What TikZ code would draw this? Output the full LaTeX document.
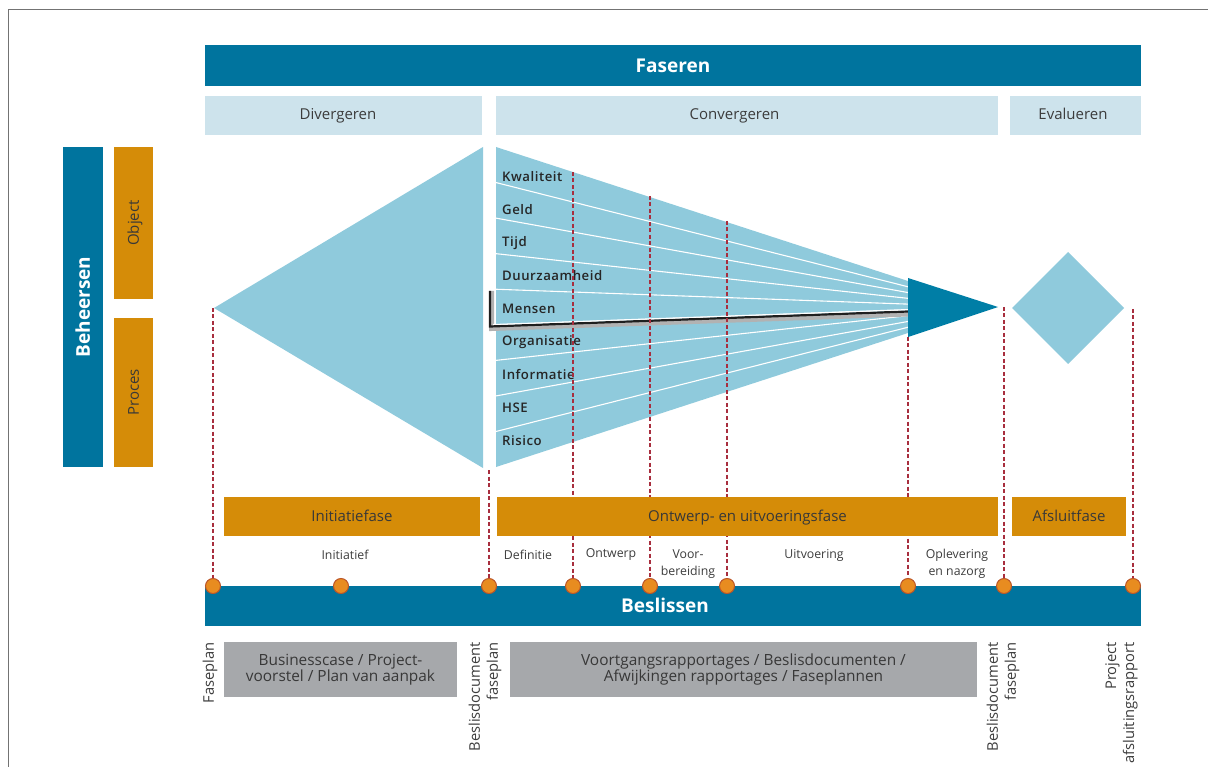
\documentclass[tikz,border=0pt]{standalone}
\usepackage{fontspec}
\setmainfont{Open Sans}
\IfFontExistsTF{Open Sans SemiBold}
  {\newfontfamily\fanfont{Open Sans SemiBold}[LetterSpace=4]}
  {\IfFontExistsTF{Open Sans Semibold}
     {\newfontfamily\fanfont{Open Sans Semibold}[LetterSpace=4]}
     {\newfontfamily\fanfont{Open Sans}[LetterSpace=4,FakeBold=0.7]}}
\definecolor{dblue}{RGB}{0,116,158}
\definecolor{tblue}{RGB}{0,126,166}
\definecolor{lblue}{RGB}{205,227,236}
\definecolor{fblue}{RGB}{143,202,220}
\definecolor{orng}{RGB}{213,140,8}
\definecolor{gbox}{RGB}{166,168,171}
\definecolor{dred}{RGB}{168,46,62}
\definecolor{dotf}{RGB}{232,140,32}
\definecolor{dotd}{RGB}{188,86,40}
\definecolor{txt}{RGB}{60,60,60}
\definecolor{framec}{RGB}{115,115,115}
\begin{document}
\begin{tikzpicture}[x=1pt,y=-1pt,
  box/.style={draw=none,inner sep=0pt,outer sep=0pt,align=center},
  darkbar/.style={box,fill=dblue,text=white,text height=13.6pt,text depth=0pt,font=\fontsize{19}{22}\selectfont\bfseries},
  hdrbox/.style={box,fill=lblue,text=txt,text height=11pt,text depth=3.5pt,font=\fontsize{15}{18}\selectfont},
  orbox/.style={box,fill=orng,text=black!78,text height=10.7pt,text depth=0pt,font=\fontsize{15}{18}\selectfont},
  grbox/.style={box,fill=gbox,text=black!78,font=\fontsize{15.4}{17}\selectfont},
  sublbl/.style={inner sep=0pt,text=txt,align=center,font=\fontsize{12.3}{17}\selectfont},
  fanlbl/.style={inner sep=0pt,anchor=west,text=black!85,font=\fontsize{13.2}{15}\fanfont},
  doclbl/.style={inner sep=0pt,rotate=90,anchor=east,align=right,text=txt,font=\fontsize{14.7}{18}\selectfont},
  guide/.style={draw=dred,line width=1.3pt,dash pattern=on 4pt off 2.5pt},
  dot/.style={circle,fill=dotf,draw=dotd,line width=1pt,minimum size=15pt,inner sep=0pt}
]
\useasboundingbox (0,0) rectangle (1208,767);
% frame
\draw[framec,line width=1.5pt] (8.5,767) -- (8.5,9.5) -- (1208,9.5);

% top bars
\node[darkbar,minimum width=936pt,minimum height=41pt] (faseren) at (673,65.5) {Faseren};
\node[hdrbox,minimum width=277pt,minimum height=39pt] (div) at (343.5,115.5) {\hspace*{-11pt}Divergeren};
\node[hdrbox,minimum width=502pt,minimum height=39pt] (conv) at (747,115.5) {\hspace*{-25pt}Convergeren};
\node[hdrbox,minimum width=131pt,minimum height=39pt] (eval) at (1075.5,115.5) {\hspace*{-5pt}Evalueren};

% left bars
\node[darkbar,rotate=90,minimum width=320pt,minimum height=40pt] (beh) at (83,307) {Beheersen};
\node[orbox,rotate=90,minimum width=152pt,minimum height=39pt] (obj) at (133.5,223) {Object};
\node[orbox,rotate=90,minimum width=149pt,minimum height=39pt] (proc) at (133.5,392.5) {Proces};

% diverge triangle
\fill[fblue] (214,308) -- (483,147) -- (483,468) -- cycle;

% converge fan
\fill[fblue] (496,147) -- (908,281) -- (908,333) -- (496,467) -- cycle;
\foreach \k in {1,...,8}{
  \draw[white,line width=1.1pt] (496,{147+35.56*\k}) -- (908,{281+5.78*\k});
}
% Mensen band shadow
\draw[black!30,line width=5pt,line join=miter] (491.5,291) -- (491.5,328.5) -- (908,314);
\draw[black!88,line width=2.2pt,line join=miter] (490,291) -- (490,326.5) -- (908,311.5);
\draw[white,line width=1pt] (493,324.5) -- (908,309.5);
% dark triangle
\fill[tblue] (908,278) -- (998,307) -- (908,337) -- cycle;

% fan labels
\node[fanlbl] (l1) at (502,177) {Kwaliteit};
\node[fanlbl] (l2) at (502,210) {Geld};
\node[fanlbl] (l3) at (502,243) {Tijd};
\node[fanlbl] (l4) at (502,276) {Duurzaamheid};
\node[fanlbl] (l5) at (502,309) {Mensen};
\node[fanlbl] (l6) at (502,342) {Organisatie};
\node[fanlbl] (l7) at (502,375) {Informatie};
\node[fanlbl] (l8) at (502,408) {HSE};
\node[fanlbl] (l9) at (502,441) {Risico};

% diamond
\fill[fblue] (1068,252) -- (1124,308) -- (1068,364) -- (1012,308) -- cycle;

% guide coordinates
\coordinate (d1) at (213,586);   \coordinate (t1) at (213,308);
\coordinate (d0) at (341,586);
\coordinate (d2) at (489,586);   \coordinate (t2) at (489,470);
\coordinate (d3) at (573,586);   \coordinate (t3) at (573,172);
\coordinate (d4) at (650,586);   \coordinate (t4) at (650,196);
\coordinate (d5) at (727,586);   \coordinate (t5) at (727,221);
\coordinate (d6) at (908,586);   \coordinate (t6) at (908,337);
\coordinate (d7) at (1004,586);  \coordinate (t7) at (1004,307);
\coordinate (d8) at (1133,586);  \coordinate (t8) at (1133,309);
\foreach \i in {1,...,8}{ \draw[guide] (t\i) -- (d\i); }

% orange phase boxes
\node[orbox,minimum width=256pt,minimum height=39pt] (ini) at (352,516.5) {Initiatiefase};
\node[orbox,minimum width=501pt,minimum height=39pt] (ont) at (747.5,516.5) {Ontwerp- en uitvoeringsfase};
\node[orbox,minimum width=114pt,minimum height=39pt] (afs) at (1069,516.5) {Afsluitfase};

% sub labels
\node[sublbl] (s1) at (345,555) {Initiatief};
\node[sublbl] (s2) at (528,555) {Definitie};
\node[sublbl] (s3) at (611,555) {Ontwerp};
\node[sublbl] (s4) at (688,564) {Voor-\\bereiding};
\node[sublbl] (s5) at (814,555) {Uitvoering};
\node[sublbl] (s6) at (957,564) {Oplevering\\en nazorg};

% Beslissen bar
\node[darkbar,minimum width=936pt,minimum height=40pt] (besl) at (673,606) {\hspace*{-16pt}Beslissen};
\foreach \i in {0,...,8}{ \node[dot] (c\i) at (d\i) {}; }

% grey document boxes
\node[grbox,minimum width=233pt,minimum height=55pt] (g1) at (340.5,669.5) {Businesscase / Project-\\[-1pt]voorstel / Plan van aanpak};
\node[grbox,minimum width=467pt,minimum height=55pt] (g2) at (743.5,669.5) {Voortgangsrapportages / Beslisdocumenten /\\[-1pt]Afwijkingen rapportages / Faseplannen};

% rotated document labels
\node[doclbl] (r1) at (210,642) {Faseplan};
\node[doclbl] (r2) at (485,642) {Beslisdocument\\faseplan};
\node[doclbl] (r3) at (1003,642) {Beslisdocument\\faseplan};
\node[doclbl] (r4) at (1121.5,642) {Project\\afsluitingsrapport};
\end{tikzpicture}
\end{document}
